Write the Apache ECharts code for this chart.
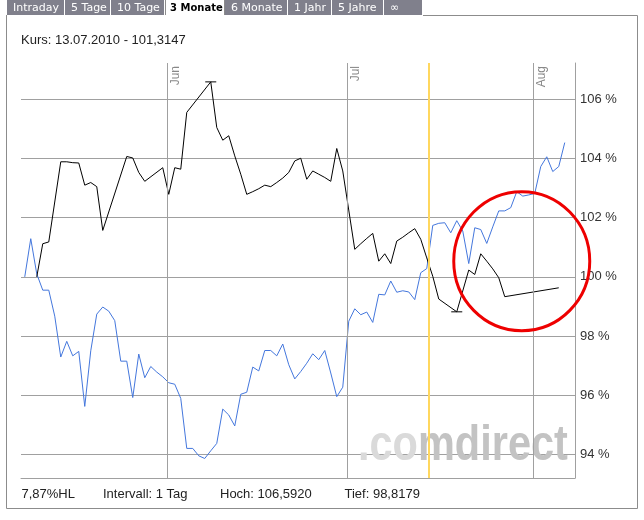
<!DOCTYPE html>
<html><head><meta charset="utf-8">
<script src="https://cdn.jsdelivr.net/npm/echarts@6/dist/echarts.min.js"></script>
<style>html,body{margin:0;padding:0;background:#fff}#c{width:644px;height:520px}</style>
</head><body><div id="c"></div>
<script>
// ---- data ----
const startDate = [2010, 4, 8];          // first daily point: 08.05.2010
const blueValues = [
 100.00,101.29,100.10,99.55,99.55,98.67,97.29,97.82,97.33,97.48,
 95.62,97.50,98.74,98.98,98.84,98.52,97.15,97.15,95.92,97.39,
 96.59,96.97,96.78,96.62,96.42,96.37,95.89,94.20,94.20,93.95,
 93.86,94.12,94.37,95.53,95.33,94.96,96.03,96.10,96.95,96.82,
 97.51,97.51,97.33,97.73,97.03,96.55,96.80,97.08,97.40,97.20,
 97.51,96.75,95.95,96.27,98.50,98.92,98.72,98.81,98.46,99.41,
 99.39,99.86,99.48,99.53,99.49,99.23,100.14,100.28,101.74,101.81,
 101.83,101.49,101.90,101.55,100.45,101.66,101.60,101.13,101.69,102.23,
 102.23,102.34,102.88,102.73,102.77,102.82,103.73,104.06,103.56,103.73,
 104.54];
const blackValues = [
 null,null,100.00,101.12,101.18,null,103.89,103.89,103.86,103.85,
 103.10,103.19,103.05,101.57,null,null,null,104.07,104.02,103.53,
 103.23,null,null,103.69,102.79,103.69,103.64,105.56,null,null,
 null,106.592,105.05,104.62,104.77,104.09,103.47,102.79,102.88,102.98,
 103.10,103.05,103.19,103.34,103.53,103.92,104.01,103.30,103.58,103.47,
 103.36,103.23,104.34,103.58,null,100.93,101.12,101.30,101.47,100.53,
 100.78,100.45,101.21,101.34,101.49,101.63,101.27,100.64,100.02,99.25,
 null,null,98.8179,null,100.23,100.08,100.78,100.53,100.27,99.97,
 99.33,null,null,null,null,null,null,null,null,99.63,
 null];
const monthDates = [[2010,5,1],[2010,6,1],[2010,7,1]];
const monthLabels = ['Jun','Jul','Aug'];
const yTicks = [94, 96, 98, 100, 102, 104, 106];
const cursorDate = [2010, 6, 14, 17];
const highlightCenter = {date: [2010, 6, 30, 4], value: 100.53};
const tabLabels = ['Intraday','5 Tage','10 Tage','3 Monate','6 Monate','1 Jahr','5 Jahre','\u221E'];
const activeTab = 3;
const headerText = 'Kurs: 13.07.2010 - 101,3147';
const footerTexts = ['7,87%HL', 'Intervall: 1 Tag', 'Hoch: 106,5920', 'Tief: 98,8179'];
const watermarkParts = ['.co', 'mdirect'];

// ---- build ----
const DAY = 86400000;
const t0 = new Date(startDate[0], startDate[1], startDate[2], 8, 0).getTime();
const pairs = arr => arr.map((v, i) => [t0 + i * DAY, v]);
const d = a => new Date(a[0], a[1], a[2], a[3] || 0, 0).getTime();

const tabX = [7, 65, 111, 165, 225, 288, 332, 384, 423];
const footX = [21.5, 103, 220, 344.5];
const FONT = '"Liberation Sans", Arial, sans-serif';

const graphics = [];
tabLabels.forEach((lab, k) => {
  const x0 = tabX[k], w = tabX[k + 1] - tabX[k];
  const active = k === activeTab;
  graphics.push({type: 'rect', z: 10, shape: {x: x0, y: 0, width: w - 1, height: 15},
    style: {fill: active ? '#ffffff' : '#80808c'}});
  graphics.push({type: 'text', z: 11, x: x0 + (active ? 5 : 6), y: 8,
    style: {text: lab, fill: active ? '#000' : '#fff', verticalAlign: 'middle',
      font: (active ? 'bold 10px' : '11px') + ' "DejaVu Sans", Verdana, sans-serif'}});
});
graphics.push({type: 'line', z: 11, shape: {x1: 165.5, y1: 0, x2: 165.5, y2: 15}, style: {stroke: '#8c8c8c', lineWidth: 1}});
graphics.push({type: 'line', z: 11, shape: {x1: 224.5, y1: 0, x2: 224.5, y2: 15}, style: {stroke: '#8c8c8c', lineWidth: 1}});
graphics.push({type: 'polyline', z: 10, shape: {points: [[423, 15.5], [637.5, 15.5], [637.5, 508.5], [6.5, 508.5], [6.5, 15]]},
  style: {stroke: '#8c8c8c', lineWidth: 1, fill: null}});
graphics.push({type: 'text', z: 10, x: 21, y: 40, style: {text: headerText, fill: '#222', font: '13px ' + FONT, verticalAlign: 'middle'}});
footerTexts.forEach((t, k) => graphics.push({type: 'text', z: 10, x: footX[k], y: 494,
  style: {text: t, fill: '#222', font: '13px ' + FONT, verticalAlign: 'middle'}}));
graphics.push({type: 'text', z: 1, x: 358, y: 446, scaleX: 0.83, silent: true,
  style: {text: '{a|' + watermarkParts[0] + '}{b|' + watermarkParts[1] + '}', verticalAlign: 'middle',
    font: 'bold 50px ' + FONT,
    rich: {a: {fill: '#dadada', font: 'bold 50px ' + FONT}, b: {fill: '#c3c3c3', font: 'bold 50px ' + FONT}}}});

const chart = echarts.init(document.getElementById('c'));
chart.setOption({
  animation: false,
  backgroundColor: '#fff',
  grid: {left: 21, right: 69, top: 63, bottom: 42},
  xAxis: {type: 'time', min: new Date(2010, 4, 7, 17).getTime(), max: new Date(2010, 7, 8, 1).getTime(),
    axisLine: {show: true, lineStyle: {color: '#a0a0a0'}}, axisTick: {show: false},
    axisLabel: {show: false}, splitLine: {show: false}},
  yAxis: {type: 'value', position: 'right', min: 93.2, max: 107.23, scale: true,
    axisLine: {show: true, lineStyle: {color: '#a0a0a0'}},
    axisTick: {show: false, customValues: yTicks},
    axisLabel: {customValues: yTicks, formatter: v => v + ' %', color: '#333', fontSize: 13, fontFamily: FONT, margin: 5},
    splitLine: {show: true, lineStyle: {color: '#a0a0a0', width: 1}}},
  graphic: graphics,
  series: [
    {type: 'line', z: 2, data: [], silent: true,
      markLine: {silent: true, symbol: ['none', 'none'], animation: false,
        lineStyle: {color: '#a0a0a0', width: 1, type: 'solid'},
        label: {show: true, position: 'insideEndBottom', formatter: p => p.name, color: '#888',
          fontSize: 12, fontFamily: FONT, distance: 3},
        data: monthDates.map((m, k) => ({name: monthLabels[k], xAxis: d(m)})).concat([
          {name: '', xAxis: d(cursorDate), lineStyle: {color: '#ffd75e', width: 2, type: 'solid'}, label: {show: false}}])}},
    {type: 'line', z: 3, data: pairs(blueValues), showSymbol: false, symbol: 'none',
      lineStyle: {color: '#4477dd', width: 1}, silent: true},
    {type: 'line', z: 4, data: pairs(blackValues), showSymbol: false, symbol: 'none', connectNulls: true,
      lineStyle: {color: '#000', width: 1}, silent: true,
      markPoint: {silent: true, label: {show: false}, animation: false,
        data: [
          {type: 'max', symbol: 'rect', symbolSize: [11, 1], itemStyle: {color: '#000'}},
          {type: 'min', symbol: 'rect', symbolSize: [11, 1], itemStyle: {color: '#000'}},
          {coord: [d(highlightCenter.date), highlightCenter.value], symbol: 'circle', symbolSize: [136, 139],
            itemStyle: {color: 'rgba(0,0,0,0)', borderColor: '#ee0000', borderWidth: 3}}]}}
  ]
});
</script></body></html>
